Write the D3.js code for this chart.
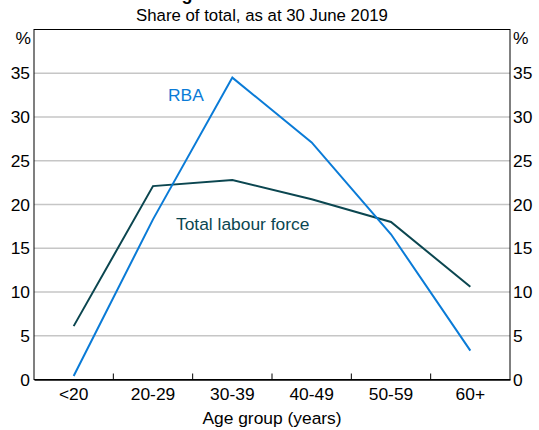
<!DOCTYPE html>
<html><head><meta charset="utf-8">
<script src="https://cdn.jsdelivr.net/npm/d3@7"></script>
<style>body{margin:0;background:#fff}svg{display:block;font-family:"Liberation Sans",Arial,sans-serif}</style>
</head><body><svg id="c" width="539" height="430"></svg>
<script>
const categories = ["<20","20-29","30-39","40-49","50-59","60+"];
const rbaValues = [0.4, 18.3, 34.5, 27.1, 16.6, 3.3];
const labourForceValues = [6.1, 22.1, 22.8, 20.6, 18.0, 10.6];
const yTicks = [0,5,10,15,20,25,30,35];
const seriesNames = ["RBA","Total labour force"];

const svg = d3.select("#c");
const L = 34, R = 510, T = 29.5, B = 379.5;
const x = d3.scaleBand().domain(categories).range([L,R]);
const y = d3.scaleLinear().domain([0,40]).range([B,T]);

const c1 = "#0a7bd7", c2 = "#0b4650";

// title (cut off at top, only descenders visible) and subtitle
svg.append("text").attr("x",272).attr("y",-0.5).attr("text-anchor","middle")
  .attr("font-size",18).attr("font-weight","bold").attr("fill","#000").text("Age Distribution of Staff");
svg.append("text").attr("x",262).attr("y",20.5).attr("text-anchor","middle")
  .attr("font-size",16.8).attr("fill","#000").text("Share of total, as at 30 June 2019");

// gridlines
svg.append("g").selectAll("line").data(yTicks.filter(d=>d>0)).join("line")
  .attr("x1",L).attr("x2",R).attr("y1",d=>y(d)).attr("y2",d=>y(d))
  .attr("stroke","#c6c6c6").attr("stroke-width",1.3);

// box
svg.append("rect").attr("x",L).attr("y",T).attr("width",R-L).attr("height",B-T)
  .attr("fill","none").attr("stroke","#000").attr("stroke-width",1);

// y axes
const fs = 17.4;
const yl = svg.append("g").attr("transform",`translate(${L},0)`)
  .call(d3.axisLeft(y).tickValues(yTicks).tickSize(0).tickPadding(4));
const yr = svg.append("g").attr("transform",`translate(${R},0)`)
  .call(d3.axisRight(y).tickValues(yTicks).tickSize(0).tickPadding(3));
[yl,yr].forEach(g=>{g.select(".domain").remove();g.selectAll("text").attr("font-size",fs).attr("font-family","Liberation Sans, Arial, sans-serif").attr("fill","#000");});
svg.append("text").attr("x",L-3).attr("y",44).attr("text-anchor","end").attr("font-size",fs).text("%");
svg.append("text").attr("x",R+3).attr("y",44).attr("text-anchor","start").attr("font-size",fs).text("%");

// x axis
const xa = svg.append("g").attr("transform",`translate(0,${B})`)
  .call(d3.axisBottom(x).tickSize(0).tickPadding(8));
xa.select(".domain").attr("stroke","#000").attr("stroke-width",1.5);
xa.selectAll("text").attr("font-size",fs).attr("font-family","Liberation Sans, Arial, sans-serif").attr("fill","#000");
// band boundary ticks pointing inward
svg.append("g").selectAll("line").data(categories.slice(1)).join("line")
  .attr("x1",d=>x(d)).attr("x2",d=>x(d)).attr("y1",B).attr("y2",B-6)
  .attr("stroke","#000").attr("stroke-width",1);
svg.append("text").attr("x",272).attr("y",424).attr("text-anchor","middle")
  .attr("font-size",fs).text("Age group (years)");

// lines
const line = d3.line().x((d,i)=>x(categories[i])+x.bandwidth()/2).y(d=>y(d));
svg.append("path").datum(labourForceValues).attr("d",line).attr("fill","none")
  .attr("stroke",c2).attr("stroke-width",2);
svg.append("path").datum(rbaValues).attr("d",line).attr("fill","none")
  .attr("stroke",c1).attr("stroke-width",2);

// labels
svg.append("text").attr("x",168).attr("y",101).attr("font-size",fs).attr("fill",c1).text(seriesNames[0]);
svg.append("text").attr("x",176).attr("y",230).attr("font-size",fs).attr("fill",c2).text(seriesNames[1]);
</script></body></html>
